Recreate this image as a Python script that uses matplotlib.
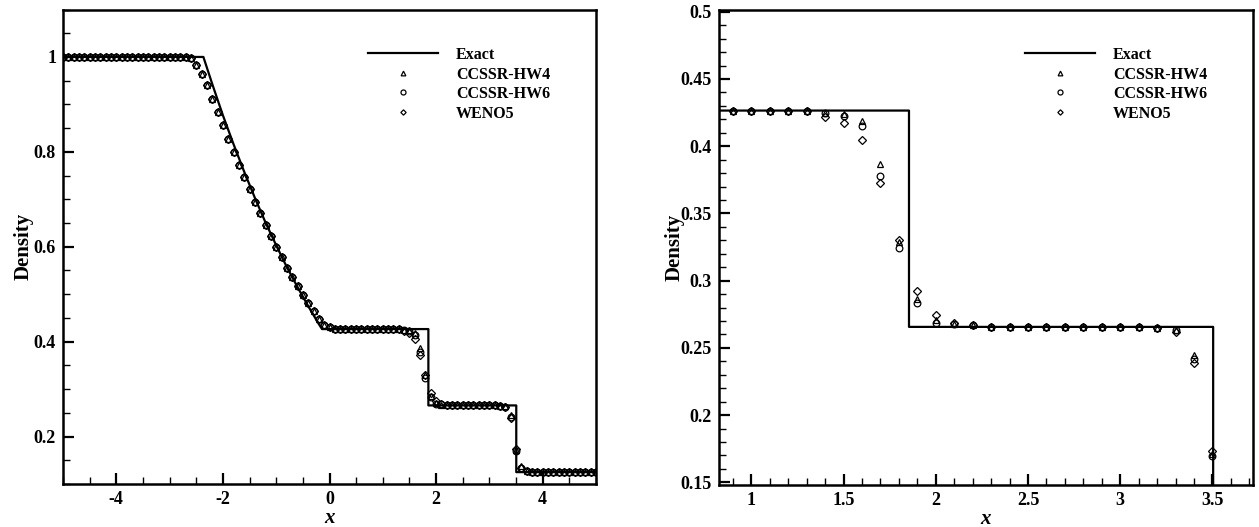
import numpy as np
import matplotlib
matplotlib.use('Agg')
import matplotlib.pyplot as plt
from matplotlib.ticker import MultipleLocator

plt.rcParams['font.family'] = ['Liberation Serif', 'DejaVu Serif']
plt.rcParams['font.weight'] = 'bold'
plt.rcParams['axes.labelweight'] = 'bold'

# exact solution
exact_x = [-5.0, -2.366, -2.2, -2.0, -1.8, -1.6, -1.4, -1.2, -1.0, -0.8, -0.6,
           -0.4, -0.2, -0.14, 1.855, 1.855, 3.504, 3.504, 5.0]
exact_rho = [1.0, 1.0, 0.943, 0.877, 0.816, 0.758, 0.703, 0.651, 0.603, 0.557,
             0.515, 0.475, 0.437, 0.4265, 0.4265, 0.2656, 0.2656, 0.125, 0.125]

# grid points of the numerical solutions, x = -5 ... 5, step 0.1
x_grid = np.linspace(-5, 5, 101)

rare = [0.997, 0.983, 0.964, 0.940, 0.912, 0.885, 0.857, 0.828, 0.800, 0.773,
        0.747, 0.721, 0.695, 0.671, 0.646, 0.623, 0.600, 0.578, 0.556, 0.536,
        0.517, 0.499, 0.481, 0.464, 0.448, 0.436, 0.430, 0.4275]

hw4 = ([1.0] * 24 + rare + [0.4265] * 12 +
       [0.4245, 0.4237, 0.4188, 0.3865, 0.329, 0.286, 0.2706, 0.2675, 0.267] +
       [0.2657] * 9 + [0.265, 0.2635, 0.2445, 0.1711, 0.137, 0.1275] + [0.125] * 13)
hw6 = ([1.0] * 24 + rare + [0.4265] * 12 +
       [0.4245, 0.4227, 0.415, 0.3778, 0.324, 0.283, 0.2687, 0.268, 0.267] +
       [0.2657] * 9 + [0.265, 0.263, 0.2415, 0.1692, 0.134, 0.1275] + [0.125] * 13)
weno5 = ([1.0] * 24 + rare + [0.4265] * 12 +
         [0.422, 0.4175, 0.4046, 0.3728, 0.330, 0.292, 0.2744, 0.2685, 0.267] +
         [0.2657] * 9 + [0.265, 0.2615, 0.239, 0.1736, 0.133, 0.1275] + [0.125] * 13)

fig = plt.figure(figsize=(12.59, 5.27), dpi=100)
ax1 = fig.add_axes([63/1259, 43/527, 533/1259, 474.5/527])
ax2 = fig.add_axes([719/1259, 42/527, 534/1259, 475/527])

for ax in (ax1, ax2):
    ax.plot(exact_x, exact_rho, color='black', lw=1.6, label='Exact', zorder=1)
    ax.plot(x_grid, hw4, ls='none', marker='^', ms=4.5, mfc='none', mec='black',
            mew=0.9, label='CCSSR-HW4')
    ax.plot(x_grid, hw6, ls='none', marker='o', ms=4.8, mfc='none', mec='black',
            mew=0.9, label='CCSSR-HW6')
    ax.plot(x_grid, weno5, ls='none', marker='D', ms=3.6, mfc='none', mec='black',
            mew=0.9, label='WENO5')
    for s in ax.spines.values():
        s.set_linewidth(1.8)
    ax.tick_params(which='both', direction='in', top=False, right=False)
    ax.tick_params(which='major', length=8, width=1.6, labelsize=13, pad=5)
    ax.tick_params(which='minor', length=5, width=1.0)
    ax.set_xlabel('x', fontsize=15, style='italic', labelpad=0)
    ax.set_ylabel('Density', fontsize=15)

ax1.set_xlim(-5, 5)
ax1.set_ylim(0.1, 1.1)
ax1.xaxis.set_minor_locator(MultipleLocator(0.5))
ax1.yaxis.set_minor_locator(MultipleLocator(0.05))
ax1.set_xticks([-4, -2, 0, 2, 4])
ax1.set_xticklabels(['-4', '-2', '0', '2', '4'])
ax1.set_yticks([0.2, 0.4, 0.6, 0.8, 1.0])
ax1.set_yticklabels(['0.2', '0.4', '0.6', '0.8', '1'])
ax1.yaxis.set_label_coords(-0.056, 0.5)

ax2.set_xlim(0.825, 3.72)
ax2.set_ylim(0.148, 0.5013)
ax2.xaxis.set_minor_locator(MultipleLocator(0.1))
ax2.yaxis.set_minor_locator(MultipleLocator(0.01))
ax2.set_xticks([1, 1.5, 2, 2.5, 3, 3.5])
ax2.set_xticklabels(['1', '1.5', '2', '2.5', '3', '3.5'])
ax2.set_yticks([0.15, 0.2, 0.25, 0.3, 0.35, 0.4, 0.45, 0.5])
ax2.set_yticklabels(['0.15', '0.2', '0.25', '0.3', '0.35', '0.4', '0.45', '0.5'])
ax2.yaxis.set_label_coords(-0.064, 0.5)

for ax, lx in ((ax1, 368/1259), (ax2, 1025/1259)):
    ax.legend(loc='upper left', bbox_to_anchor=(lx, 1 - 47/527),
              bbox_transform=fig.transFigure, frameon=False, fontsize=11.5,
              numpoints=1, markerscale=0.75, handlelength=4.4, handletextpad=1.1,
              labelspacing=0.22, borderpad=0, borderaxespad=0)

fig.savefig('out.png', dpi=100)
